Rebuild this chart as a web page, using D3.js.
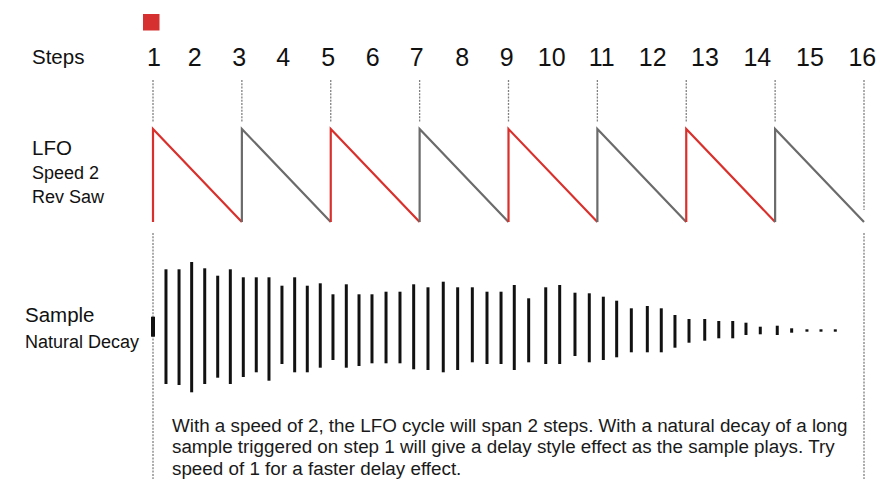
<!DOCTYPE html>
<html><head><meta charset="utf-8">
<script src="https://cdn.jsdelivr.net/npm/d3@7"></script>
<style>body{margin:0;background:#fff}svg{display:block}</style>
</head><body><svg id="c" width="877" height="479"></svg>
<script>
// ---- data ----
const stepLabels = ["1","2","3","4","5","6","7","8","9","10","11","12","13","14","15","16"];
// position of each step label along the LFO-cycle axis (cycles of 2 steps)
const stepLabelPos = [0.01,0.47,0.97,1.466,1.972,2.472,2.967,3.48,3.98,4.486,5.049,5.623,6.211,6.8,7.392,7.981];
const lfoCycles = [0,1,2,3,4,5,6,7];
const cycleBoundaries = [0,1,2,3,4,5,6,7,8];
// sample grains: time (in LFO cycles), upper and lower amplitude
const grainTime = [0,0.146,0.293,0.435,0.582,0.728,0.870,1.016,1.162,1.305,1.451,1.594,1.736,1.882,2.025,2.175,2.318,2.464,2.622,2.779,2.933,3.094,3.266,3.428,3.593,3.758,3.916,4.065,4.227,4.419,4.576,4.748,4.909,5.067,5.217,5.382,5.562,5.719,5.873,6.031,6.208,6.366,6.523,6.672,6.833,7.024,7.186,7.358,7.516,7.677];
const grainHigh = [10.3,57.7,57.7,65,58.7,51.3,57.7,49.7,49.7,49.7,41.3,49.7,41.3,43.7,32.7,42.7,32.7,32.7,35.3,35.3,42.7,39.7,45.3,39.7,39.7,35.3,35.3,42,28.7,39.7,42,34.3,33.7,30.3,26.3,18.7,21,18.7,12,8,8,6,6,4.3,0.3,1.3,-1.3,-2.3,-2.3,-2.3];
const grainLow = [-9.7,-57,-58,-65.3,-57,-50.7,-57,-50,-45.3,-53.7,-37,-45.3,-45.3,-40.7,-33,-40.7,-39,-36.3,-36.3,-36.3,-42.3,-43,-45.3,-43,-35.3,-37,-37,-43,-35.3,-37,-37,-29,-35.3,-33,-30.3,-25.3,-25.3,-25.3,-20.7,-15.7,-13.7,-11.3,-11.3,-8,-7.3,-8,-5.7,-4.7,-4.7,-4.7];
const lfoLabels = ["LFO","Speed 2","Rev Saw"];
const sampleLabels = ["Sample","Natural Decay"];
const noteLines = [
  "With a speed of 2, the LFO cycle will span 2 steps. With a natural decay of a long",
  "sample triggered on step 1 will give a delay style effect as the sample plays. Try",
  "speed of 1 for a faster delay effect."
];

// ---- drawing ----
const svg = d3.select("#c");
const FONT = "'Liberation Sans', Arial, Helvetica, sans-serif";
svg.append("rect").attr("width",877).attr("height",479).attr("fill","#fff");

const x = d3.scaleLinear().domain([0,8]).range([153,864]);
const yL = d3.scaleLinear().domain([0,1]).range([222,129]);
const yS = d3.scaleLinear().domain([-70,70]).range([397,257]);

const RED = "#d9302c", GRAY = "#6b6b6b", INK = "#111";

// red marker above step 1
svg.append("rect").attr("x", x(0)-10).attr("y",14).attr("width",16.5).attr("height",16.5).attr("fill","#d63030");

// Steps header
svg.append("text").attr("x",32).attr("y",63.5).attr("font-family",FONT).attr("font-size",20.5).attr("fill",INK).text("Steps");
svg.append("g").selectAll("text").data(stepLabels).join("text")
  .attr("x",(d,i)=>x(stepLabelPos[i])).attr("y",65.5)
  .attr("text-anchor","middle").attr("font-family",FONT).attr("font-size",25).attr("fill",INK)
  .text(d=>d);

// dotted guide lines
const segs = [];
cycleBoundaries.forEach((c,i)=>{
  const last = i===cycleBoundaries.length-1;
  segs.push({c, y1:80, y2: last?210:122});
  if(i===0 || last) segs.push({c, y1:233, y2:479});
});
svg.append("g").selectAll("line").data(segs).join("line")
  .attr("x1",d=>x(d.c)).attr("x2",d=>x(d.c)).attr("y1",d=>d.y1).attr("y2",d=>d.y2)
  .attr("stroke","#808080").attr("stroke-width",1.3).attr("stroke-dasharray","2,1.3");

// LFO reverse saw
const line = d3.line().x(d=>x(d[0])).y(d=>yL(d[1]));
svg.append("g").selectAll("path").data(lfoCycles).join("path")
  .attr("d",c=>line([[c,0],[c,1],[c+1,0]]))
  .attr("fill","none").attr("stroke",c=>c%2===0?RED:GRAY).attr("stroke-width",2.2).attr("stroke-linejoin","miter");

// LFO labels
svg.append("g").selectAll("text").data(lfoLabels).join("text")
  .attr("x",32).attr("y",(d,i)=>[155,179,203][i])
  .attr("font-family",FONT).attr("font-size",(d,i)=>i===0?20.5:18).attr("fill",INK).text(d=>d);

// Sample labels
svg.append("g").selectAll("text").data(sampleLabels).join("text")
  .attr("x",25).attr("y",(d,i)=>[321.5,347.5][i])
  .attr("font-family",FONT).attr("font-size",(d,i)=>i===0?20.5:18).attr("fill",INK).text(d=>d);

// sample grains
svg.append("g").selectAll("line").data(grainTime).join("line")
  .attr("x1",d=>x(d)).attr("x2",d=>x(d))
  .attr("y1",(d,i)=>yS(grainHigh[i])).attr("y2",(d,i)=>yS(grainLow[i]))
  .attr("stroke",INK).attr("stroke-width",(d,i)=>i===0?4:3);

// note text
const note = svg.append("g").selectAll("text").data(noteLines).join("text")
  .attr("x",172).attr("y",(d,i)=>[431.5,453,474.5][i])
  .attr("font-family",FONT).attr("font-size",17).attr("fill","#1a1a1a").text(d=>d);
const w = note.nodes()[0].getComputedTextLength();
note.attr("font-size", 17*676/w);
</script></body></html>
